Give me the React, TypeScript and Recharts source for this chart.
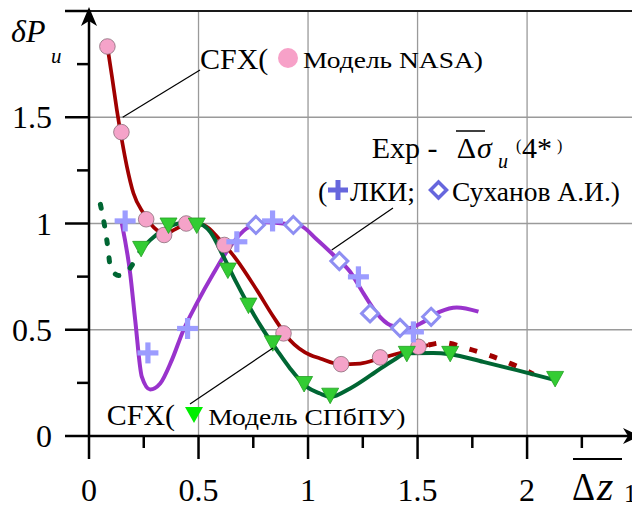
import React from 'react';
import { ComposedChart, Line, Scatter, XAxis, YAxis, CartesianGrid, ReferenceLine } from 'recharts';

// ---- axes ----
const xTicks = [0, 0.25, 0.5, 0.75, 1, 1.25, 1.5, 1.75, 2, 2.25];
const xMajorTicks = [0, 0.5, 1, 1.5, 2];
const xTickLabels = ['0', '0.5', '1', '1.5', '2'];
const yTicks = [0, 0.25, 0.5, 0.75, 1, 1.25, 1.5, 1.75, 2];
const yMajorTicks = [0, 0.5, 1, 1.5, 2];
const yTickLabels = ['0', '0.5', '1', '1.5', ''];
const xGrid = [0.5, 1, 1.5, 2];
const yGrid = [0.5, 1, 1.5];

// ---- CFX, NASA model (pink circles, dark red curve) ----
const nasaPoints = [
  { x: 0.084, y: 1.833 }, { x: 0.148, y: 1.43 }, { x: 0.261, y: 1.02 }, { x: 0.343, y: 0.946 },
  { x: 0.444, y: 1.0 }, { x: 0.618, y: 0.899 }, { x: 0.888, y: 0.483 }, { x: 1.151, y: 0.338 },
  { x: 1.329, y: 0.37 }, { x: 1.504, y: 0.42 },
];
const nasaCurve = [
  { x: 0.084, y: 1.833 }, { x: 0.105, y: 1.691 }, { x: 0.127, y: 1.535 }, { x: 0.15, y: 1.393 },
  { x: 0.173, y: 1.268 }, { x: 0.203, y: 1.142 }, { x: 0.249, y: 1.048 }, { x: 0.31, y: 0.969 },
  { x: 0.356, y: 0.954 }, { x: 0.386, y: 0.969 }, { x: 0.462, y: 1.001 }, { x: 0.523, y: 0.993 },
  { x: 0.599, y: 0.922 }, { x: 0.675, y: 0.828 }, { x: 0.766, y: 0.687 }, { x: 0.842, y: 0.561 },
  { x: 0.918, y: 0.451 }, { x: 1.01, y: 0.381 }, { x: 1.055, y: 0.365 }, { x: 1.146, y: 0.338 },
  { x: 1.238, y: 0.341 }, { x: 1.329, y: 0.365 }, { x: 1.42, y: 0.391 }, { x: 1.497, y: 0.412 },
  { x: 1.55, y: 0.428 },
];
const nasaCurveExtension = [
  { x: 1.55, y: 0.428 }, { x: 1.618, y: 0.439 }, { x: 1.725, y: 0.412 }, { x: 1.823, y: 0.381 },
  { x: 1.922, y: 0.342 }, { x: 2.029, y: 0.291 },
];

// ---- CFX, SPbPU model (green triangles, dark green curve) ----
const spbpuPoints = [
  { x: 0.238, y: 0.883 }, { x: 0.363, y: 0.993 }, { x: 0.492, y: 0.993 }, { x: 0.634, y: 0.781 },
  { x: 0.728, y: 0.616 }, { x: 0.839, y: 0.439 }, { x: 0.982, y: 0.247 }, { x: 1.101, y: 0.192 },
  { x: 1.451, y: 0.389 }, { x: 1.649, y: 0.389 }, { x: 2.128, y: 0.271 },
];
const spbpuCurve = [
  { x: 0.226, y: 0.86 }, { x: 0.279, y: 0.922 }, { x: 0.34, y: 0.969 }, { x: 0.416, y: 1.001 },
  { x: 0.492, y: 1.001 }, { x: 0.553, y: 0.961 }, { x: 0.614, y: 0.844 }, { x: 0.675, y: 0.718 },
  { x: 0.736, y: 0.601 }, { x: 0.796, y: 0.498 }, { x: 0.858, y: 0.404 }, { x: 0.918, y: 0.318 },
  { x: 0.994, y: 0.231 }, { x: 1.055, y: 0.2 }, { x: 1.101, y: 0.184 }, { x: 1.192, y: 0.224 },
  { x: 1.298, y: 0.294 }, { x: 1.39, y: 0.357 }, { x: 1.451, y: 0.389 }, { x: 1.572, y: 0.391 },
  { x: 1.649, y: 0.385 }, { x: 1.8, y: 0.349 }, { x: 1.953, y: 0.31 }, { x: 2.128, y: 0.263 },
];
const spbpuCurveStart = [
  { x: 0.052, y: 1.09 }, { x: 0.071, y: 0.99 }, { x: 0.087, y: 0.88 }, { x: 0.097, y: 0.8 },
  { x: 0.135, y: 0.755 }, { x: 0.178, y: 0.778 }, { x: 0.226, y: 0.86 },
];

// ---- Experiment: LKI (crosses), Sukhanov A.I. (diamonds), purple curve ----
const lkiPoints = [
  { x: 0.165, y: 1.012 }, { x: 0.269, y: 0.391 }, { x: 0.45, y: 0.506 }, { x: 0.675, y: 0.914 },
  { x: 0.838, y: 1.012 }, { x: 1.23, y: 0.749 }, { x: 1.481, y: 0.49 },
];
const sukhanovPoints = [
  { x: 0.762, y: 0.993 }, { x: 0.933, y: 0.993 }, { x: 1.143, y: 0.823 }, { x: 1.283, y: 0.577 },
  { x: 1.42, y: 0.509 }, { x: 1.562, y: 0.561 },
];
const expCurve = [
  { x: 0.15, y: 1.0 }, { x: 0.188, y: 0.765 }, { x: 0.211, y: 0.545 }, { x: 0.241, y: 0.279 },
  { x: 0.279, y: 0.219 }, { x: 0.325, y: 0.247 }, { x: 0.378, y: 0.357 }, { x: 0.431, y: 0.498 },
  { x: 0.492, y: 0.624 }, { x: 0.568, y: 0.765 }, { x: 0.644, y: 0.891 }, { x: 0.72, y: 0.977 },
  { x: 0.812, y: 1.006 }, { x: 0.903, y: 0.998 }, { x: 0.964, y: 0.99 }, { x: 1.04, y: 0.925 },
  { x: 1.116, y: 0.852 }, { x: 1.192, y: 0.773 }, { x: 1.253, y: 0.671 }, { x: 1.314, y: 0.577 },
  { x: 1.375, y: 0.522 }, { x: 1.451, y: 0.506 }, { x: 1.527, y: 0.537 }, { x: 1.603, y: 0.585 },
  { x: 1.679, y: 0.605 }, { x: 1.778, y: 0.585 },
];

const FONT = "'Liberation Serif', 'Times New Roman', serif";

const XTick = (props: any) => {
  const { x, y, payload } = props;
  const i = xMajorTicks.indexOf(payload.value);
  const major = i >= 0;
  return (
    <g>
      <line x1={x} x2={x} y1={y} y2={y + (major ? 23 : 12)} stroke="#000" strokeWidth={2.5} />
      {major && (
        <text x={x} y={y + 65} textAnchor="middle" fontSize={32} fontFamily={FONT} fill="#000">
          {xTickLabels[i]}
        </text>
      )}
    </g>
  );
};

const YTick = (props: any) => {
  const { x, y, payload } = props;
  const i = yMajorTicks.indexOf(payload.value);
  const major = i >= 0;
  return (
    <g>
      <line x1={x - (major ? 24 : 12)} x2={x} y1={y} y2={y} stroke="#000" strokeWidth={2.5} />
      {major && yTickLabels[i] !== '' && (
        <text x={x - 37} y={y + 11} textAnchor="end" fontSize={32} fontFamily={FONT} fill="#000">
          {yTickLabels[i]}
        </text>
      )}
    </g>
  );
};

const CircleShape = (p: any) => (
  <circle cx={p.cx} cy={p.cy} r={7.8} fill="#f5a3c9" stroke="#8a6d7a" strokeWidth={0.8} />
);
const TriangleShape = (p: any) => (
  <polygon
    points={`${p.cx - 8.5},${p.cy - 7} ${p.cx + 8.5},${p.cy - 7} ${p.cx},${p.cy + 8.5}`}
    fill="#33cc33"
    stroke="#22a022"
    strokeWidth={0.8}
  />
);
const CrossShape = (p: any) => (
  <g fill="#9c9cff">
    <rect x={p.cx - 10.5} y={p.cy - 2.6} width={21} height={5.2} />
    <rect x={p.cx - 2.6} y={p.cy - 10.5} width={5.2} height={21} />
  </g>
);
const DiamondShape = (p: any) => (
  <polygon
    points={`${p.cx},${p.cy - 8.5} ${p.cx + 8.5},${p.cy} ${p.cx},${p.cy + 8.5} ${p.cx - 8.5},${p.cy}`}
    fill="#fff"
    stroke="#8e8ef2"
    strokeWidth={3}
  />
);

export default function App() {
  return (
    <div style={{ position: 'absolute', left: 0, top: 0, width: 632, height: 506, background: '#fff' }}>
      <ComposedChart width={632} height={506} margin={{ top: 11, right: 0, bottom: 0, left: 0 }}>
        <CartesianGrid
          horizontalValues={yGrid}
          verticalValues={xGrid}
          stroke="#9a9a9a"
          strokeWidth={1.3}
        />
        <XAxis
          type="number"
          dataKey="x"
          domain={[0, 2.479]}
          ticks={xTicks}
          interval={0}
          tick={XTick}
          tickSize={0}
          tickMargin={0}
          tickLine={false}
          axisLine={{ stroke: '#000', strokeWidth: 2.5 }}
          height={70}
          allowDataOverflow
        />
        <YAxis
          type="number"
          dataKey="y"
          domain={[0, 2]}
          ticks={yTicks}
          interval={0}
          tick={YTick}
          tickSize={0}
          tickMargin={0}
          tickLine={false}
          axisLine={{ stroke: '#000', strokeWidth: 2.5 }}
          width={89}
          allowDataOverflow
        />
        <ReferenceLine y={2} stroke="#1a1a1a" strokeWidth={2.2} />
        <Scatter name="NASA" data={nasaPoints} shape={CircleShape} isAnimationActive={false} />
        <Line data={expCurve} dataKey="y" type="monotone" stroke="#9933cc" strokeWidth={4} dot={false} activeDot={false} isAnimationActive={false} />
        <Line data={nasaCurve} dataKey="y" type="monotone" stroke="#a00000" strokeWidth={3.7} dot={false} activeDot={false} isAnimationActive={false} />
        <Line data={nasaCurveExtension} dataKey="y" type="monotone" stroke="#a00000" strokeWidth={5} strokeDasharray="8 13" dot={false} activeDot={false} isAnimationActive={false} />
        <Line data={spbpuCurve} dataKey="y" type="monotone" stroke="#006633" strokeWidth={4} dot={false} activeDot={false} isAnimationActive={false} />
        <Line data={spbpuCurveStart} dataKey="y" type="monotone" stroke="#006633" strokeWidth={5} strokeDasharray="4 14" strokeLinecap="round" dot={false} activeDot={false} isAnimationActive={false} />
        <Scatter name="SPbPU" data={spbpuPoints} shape={TriangleShape} isAnimationActive={false} />
        <Scatter name="LKI" data={lkiPoints} shape={CrossShape} isAnimationActive={false} />
        <Scatter name="Sukhanov" data={sukhanovPoints} shape={DiamondShape} isAnimationActive={false} />
      </ComposedChart>
      <svg
        width={632}
        height={506}
        style={{ position: 'absolute', left: 0, top: 0, pointerEvents: 'none' }}
        fontFamily={FONT}
      >
        {/* axis arrows */}
        <path d="M89,7 L97,26 L89,21 L81,26 Z" fill="#000" />
        <path d="M640,436 L623,428 L628,436 L623,444 Z" fill="#000" />
        {/* y-axis title */}
        <text x={11} y={42} fontSize={32} fontStyle="italic" fill="#000">δP</text>
        <text x={51} y={63} fontSize={21} fontStyle="italic" fill="#000">и</text>
        {/* x-axis title */}
        <line x1={573} x2={622} y1={459} y2={459} stroke="#000" strokeWidth={2} />
        <text x={572} y={500} fontSize={40} fill="#000" textLength={23} lengthAdjust="spacingAndGlyphs">Δ</text>
        <text x={597} y={500} fontSize={42} fontStyle="italic" fill="#000">z</text>
        <text x={624} y={502} fontSize={25} fill="#000">1</text>
        {/* NASA annotation */}
        <line x1={200} y1={70} x2={122.7} y2={117.3} stroke="#000" strokeWidth={1.2} />
        <text x={200} y={69} fontSize={30} fill="#000">CFX(</text>
        <circle cx={288} cy={58} r={10} fill="#f7a1c8" />
        <text x={303} y={67.5} fontSize={24} textLength={180} lengthAdjust="spacingAndGlyphs" fill="#000">Модель NASA)</text>
        {/* SPbPU annotation */}
        <line x1={190} y1={404} x2={273} y2={348} stroke="#000" strokeWidth={1.2} />
        <text x={106.7} y={425} fontSize={30} fill="#000">CFX(</text>
        <polygon points="185,407 203,407 194,423" fill="#00ee00" />
        <text x={208.3} y={425} fontSize={24} textLength={197} lengthAdjust="spacingAndGlyphs" fill="#000">Модель СПбПУ)</text>
        {/* Experiment annotation */}
        <line x1={393} y1={208} x2={331.7} y2={250} stroke="#000" strokeWidth={1.2} />
        <text x={371.7} y={158} fontSize={30} fill="#000">Exp -</text>
        <line x1={456} x2={485} y1={131} y2={131} stroke="#000" strokeWidth={1.5} />
        <text x={456.7} y={158} fontSize={30} fill="#000">Δ</text>
        <text x={477} y={158} fontSize={30} fontStyle="italic" fill="#000">σ</text>
        <text x={498} y={168} fontSize={20} fontStyle="italic" fill="#000">и</text>
        <text x={516} y={151} fontSize={16} fill="#000">(</text>
        <text x={522} y={158} fontSize={30} fill="#000">4*</text>
        <text x={557} y={151} fontSize={16} fill="#000">)</text>
        <text x={318} y={201} fontSize={28} fill="#000">(</text>
        <rect x={328} y={187.5} width={20} height={5} fill="#6666dd" />
        <rect x={335.5} y={180} width={5} height={20} fill="#6666dd" />
        <text x={350} y={201} fontSize={28} textLength={65} lengthAdjust="spacingAndGlyphs" fill="#000">ЛКИ;</text>
        <polygon points="438.5,182 446.5,190 438.5,198 430.5,190" fill="#fff" stroke="#6666dd" strokeWidth={3.5} />
        <text x={452} y={201} fontSize={28} textLength={168} lengthAdjust="spacingAndGlyphs" fill="#000">Суханов А.И.)</text>
      </svg>
    </div>
  );
}
